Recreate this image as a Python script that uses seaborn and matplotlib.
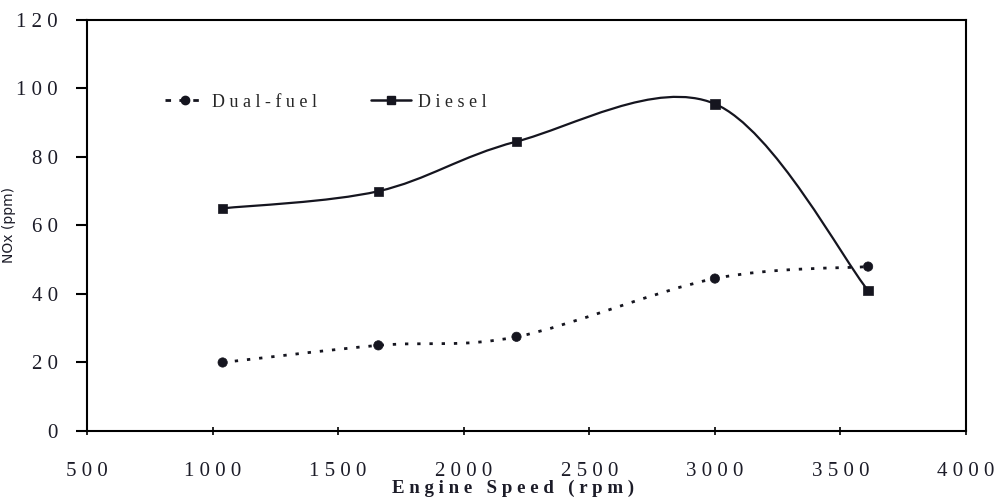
import numpy as np
import matplotlib
matplotlib.use("Agg")
import matplotlib.pyplot as plt
from matplotlib.path import Path
from matplotlib.patches import PathPatch
from matplotlib.lines import Line2D
import seaborn as sns
import pandas as pd

# Engine speed (rpm) and NOx emissions (ppm)
speed = [1040, 1660, 2210, 3000, 3610]
nox_dual_fuel = [20, 25, 27.5, 44.5, 48]
nox_diesel = [65, 70, 84.5, 95.5, 41]

x_ticks = [500, 1000, 1500, 2000, 2500, 3000, 3500, 4000]
y_ticks = [0, 20, 40, 60, 80, 100, 120]

sns.set_theme(style="white")
plt.rcParams["font.family"] = ["Liberation Serif", "DejaVu Serif"]

LINE = "#15151f"


def spaced(s):
    return " ".join(list(s))


def smooth_path(ax, xs, ys, **kw):
    """Catmull-Rom style smoothed line through the points, drawn as Bezier segments in axes space."""
    pts = ax.transData.transform(np.column_stack([xs, ys]))
    n = len(pts)
    verts = [pts[0]]
    codes = [Path.MOVETO]
    for i in range(n - 1):
        p0 = pts[i - 1] if i > 0 else pts[i]
        p1 = pts[i]
        p2 = pts[i + 1]
        p3 = pts[i + 2] if i + 2 < n else pts[i + 1]
        c1 = p1 + (p2 - p0) / 6.0
        c2 = p2 - (p3 - p1) / 6.0
        verts += [c1, c2, p2]
        codes += [Path.CURVE4] * 3
    verts = ax.transData.inverted().transform(np.array(verts))
    patch = PathPatch(Path(verts, codes), fill=False, transform=ax.transData, **kw)
    ax.add_patch(patch)


fig = plt.figure(figsize=(9.98, 4.99), dpi=100)
ax = fig.add_axes([0.0872, 0.1363, 0.8808, 0.8237])
ax.set_xlim(500, 4000)
ax.set_ylim(0, 120)

df = pd.DataFrame({
    "speed": speed * 2,
    "nox": nox_dual_fuel + nox_diesel,
    "fuel": ["Dual-fuel"] * len(speed) + ["Diesel"] * len(speed),
})

smooth_path(ax, speed, nox_dual_fuel, edgecolor=LINE, linewidth=2.0,
            linestyle=(0, (1.2, 3.2)), zorder=2)
smooth_path(ax, speed, nox_diesel, edgecolor=LINE, linewidth=1.6, zorder=2)

sns.scatterplot(data=df, x="speed", y="nox", hue="fuel", style="fuel",
                markers={"Dual-fuel": "o", "Diesel": "s"},
                palette={"Dual-fuel": LINE, "Diesel": LINE},
                s=45, edgecolor=LINE, linewidth=0.5, legend=False, ax=ax, zorder=3)

for sp in ax.spines.values():
    sp.set_visible(True)
    sp.set_color("black")
    sp.set_linewidth(1.5)

ax.set_xticks(x_ticks)
ax.set_yticks(y_ticks)
ax.set_xticklabels([spaced(str(t)) for t in x_ticks], fontsize=15, color="#1c1c28")
ax.set_yticklabels([spaced(str(t)) for t in y_ticks], fontsize=15, color="#1c1c28")
ax.tick_params(axis="y", direction="out", length=8, width=1.5, color="black", left=True, pad=13)
ax.tick_params(axis="x", direction="inout", length=6, width=1.2, color="black", bottom=True, pad=19)

ax.set_xlabel(spaced("Engine Speed (rpm)"), fontsize=13.6, fontweight="bold",
              color="#1c1c28", labelpad=0)
ax.xaxis.set_label_coords(0.485, -0.118)
ax.set_ylabel("NOx (ppm)", fontsize=10, family=["DejaVu Sans"], color="#1c1c28", labelpad=0)

handles = [
    Line2D([], [], color=LINE, linestyle=(0, (2, 3)), linewidth=2.0,
           marker="o", markersize=6),
    Line2D([], [], color=LINE, linestyle="-", linewidth=1.8,
           marker="s", markersize=6),
]
ax.legend(handles, [spaced("Dual-fuel"), spaced("Diesel")], loc="upper left",
          bbox_to_anchor=(0.07, 0.86), ncol=2, frameon=False, fontsize=13,
          handlelength=2.2, handletextpad=0.4, columnspacing=3.0)

fig.savefig("out.png", dpi=100, facecolor="white")
